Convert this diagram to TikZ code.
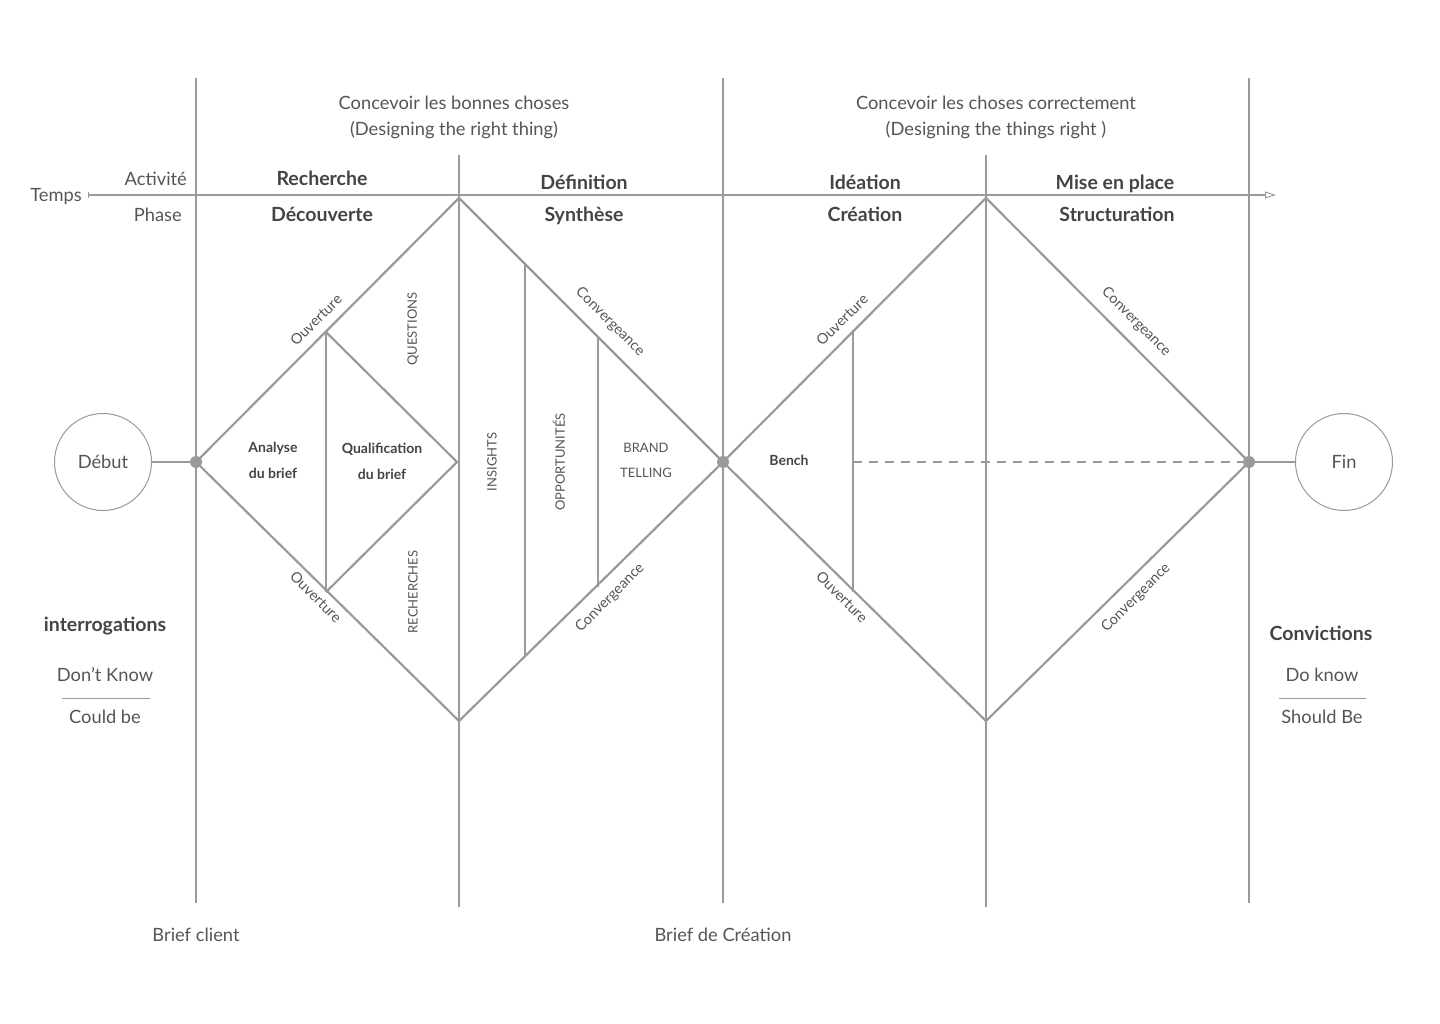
\documentclass[tikz,border=0pt]{standalone}
\usepackage{fontspec}
\setmainfont{Lato}
\usetikzlibrary{arrows.meta}
\definecolor{ln}{HTML}{9A9A9A}
\definecolor{tx}{HTML}{555555}
\definecolor{bd}{HTML}{444444}
\begin{document}
\begin{tikzpicture}[x=1pt,y=-1pt,
  thinln/.style={draw=ln,line width=1.2pt},
  dia/.style={draw=ln,line width=2.2pt,line join=miter},
  lbl/.style={text=tx,font=\fontsize{18.3}{21}\selectfont,inner sep=0pt,text height=0.72em,text depth=0.2em,yshift=-4.5pt},
  hd/.style={text=bd,font=\bfseries\fontsize{19.5}{22}\selectfont,inner sep=0pt,text height=0.72em,text depth=0.2em,yshift=-4.5pt},
  sbold/.style={text=bd,font=\bfseries\fontsize{14}{16}\selectfont,inner sep=0pt,text height=0.72em,text depth=0.2em,yshift=-3pt},
  edge/.style={text=tx,font=\fontsize{14.5}{16}\selectfont,inner sep=0pt},
  caps/.style={text=tx,font=\fontsize{13}{15}\selectfont,inner sep=0pt},
  dot/.style={circle,fill=ln,inner sep=0pt,minimum size=12pt},
  endc/.style={circle,draw=ln,line width=1pt,minimum size=97pt,inner sep=0pt,text=tx,font=\fontsize{18.3}{21}\selectfont}]
\useasboundingbox (0,0) rectangle (1440,1024);

% column lines
\coordinate (v1t) at (196,78);  \coordinate (v1b) at (196,903);
\coordinate (v2t) at (459,155); \coordinate (v2b) at (459,907);
\coordinate (v3t) at (723,78);  \coordinate (v3b) at (723,903);
\coordinate (v4t) at (986,155); \coordinate (v4b) at (986,907);
\coordinate (v5t) at (1249,78); \coordinate (v5b) at (1249,903);
\draw[thinln] (v1t) -- (v1b);
\draw[thinln] (v2t) -- (v2b);
\draw[thinln] (v3t) -- (v3b);
\draw[thinln] (v4t) -- (v4b);
\draw[thinln] (v5t) -- (v5b);

% time axis
\coordinate (ta) at (88,195);
\coordinate (tb) at (1276,195);
\draw[thinln,{Bar[width=6pt]}-{Triangle[open,length=11pt,width=7pt,line width=1pt]}] (ta) -- (tb);

% diamond vertices
\coordinate (A) at (196,462);
\coordinate (T1) at (459,198);
\coordinate (B) at (723,462);
\coordinate (D1) at (459,721);
\coordinate (T2) at (986,198);
\coordinate (C) at (1249,462);
\coordinate (D2) at (986,721);

% inner structure diamond 1
\coordinate (q1) at (326,332);
\coordinate (q2) at (326,592);
\coordinate (q3) at (457,462);
\draw[dia] (q1) -- (q2);
\draw[dia] (q1) -- (q3) -- (q2);
\draw[dia] (T1) -- (D1);
\coordinate (o1) at (525,264); \coordinate (o2) at (525,657);
\coordinate (b1) at (598,337); \coordinate (b2) at (598,587);
\draw[dia] (o1) -- (o2);
\draw[dia] (b1) -- (b2);

% inner structure diamond 2
\coordinate (n1) at (853,332);
\coordinate (n2) at (853,592);
\coordinate (n3) at (853,462);
\draw[dia] (n1) -- (n2);
\draw[thinln,dash pattern=on 9pt off 7pt] (n3) -- (C);

% diamonds
\draw[dia] (A) -- (T1) -- (B) -- (D1) -- cycle;
\draw[dia] (B) -- (T2) -- (C) -- (D2) -- cycle;

% start/end
\node[endc] (debut) at (103,462) {Début};
\node[endc] (fin) at (1344,462) {Fin};
\draw[thinln] (debut) -- (A);
\draw[thinln] (C) -- (fin);
\node[dot] (dA) at (A) {};
\node[dot] (dB) at (B) {};
\node[dot] (dC) at (C) {};

% headings
\node[lbl] (h1) at (454,102) {Concevoir les bonnes choses};
\node[lbl] (h1b) at (454,128) {(Designing the right thing)};
\node[lbl] (h2) at (996,102) {Concevoir les choses correctement};
\node[lbl] (h2b) at (996,128) {(Designing the things right )};

\node[lbl,anchor=east] (temps) at (82,194) {Temps};
\node[lbl,anchor=east] (act) at (187,178) {Activité};
\node[lbl,anchor=east] (phase) at (182,214) {Phase};

\node[hd] (r1) at (322,178) {Recherche};
\node[hd] (r2) at (322,214) {Découverte};
\node[hd] (d1) at (584,182) {Définition};
\node[hd] (d2) at (584,214) {Synthèse};
\node[hd] (i1) at (865,182) {Idéation};
\node[hd] (i2) at (865,214) {Création};
\node[hd] (m1) at (1115,182) {Mise en place};
\node[hd] (m2) at (1117,214) {Structuration};

% diamond 1 texts
\node[sbold] (an1) at (273,447) {Analyse};
\node[sbold] (an2) at (273,473) {du brief};
\node[sbold] (ql1) at (382,448) {Qualification};
\node[sbold] (ql2) at (382,474) {du brief};
\node[caps,rotate=90] (qu) at (413,329) {QUESTIONS};
\node[caps,rotate=90] (re) at (413,592) {RECHERCHES};
\node[edge,rotate=45] (ou1) at (316,320) {Ouverture};
\node[edge,rotate=-45] (ou2) at (316,597) {Ouverture};
\node[caps,rotate=90] (ins) at (492,462) {INSIGHTS};
\node[caps,rotate=90] (opp) at (559,462) {OPPORTUNITÉS};
\node[caps] (br1) at (646,448) {BRAND};
\node[caps] (br2) at (646,473) {TELLING};
\node[edge,rotate=-45] (cv1) at (610,322) {Convergeance};
\node[edge,rotate=45] (cv2) at (610,598) {Convergeance};

% diamond 2 texts
\node[edge,rotate=45] (ou3) at (842,320) {Ouverture};
\node[edge,rotate=-45] (ou4) at (842,597) {Ouverture};
\node[sbold] (bench) at (789,460) {Bench};
\node[edge,rotate=-45] (cv3) at (1136,322) {Convergeance};
\node[edge,rotate=45] (cv4) at (1136,598) {Convergeance};

% left / right notes
\node[hd] (intg) at (105,624) {interrogations};
\node[lbl] (dk) at (105,674) {Don’t Know};
\coordinate (l1a) at (62,698); \coordinate (l1b) at (150,698);
\draw[thinln,line width=1pt] (l1a) -- (l1b);
\node[lbl] (cb) at (105,716) {Could be};

\node[hd] (conv) at (1321,633) {Convictions};
\node[lbl] (dok) at (1322,674) {Do know};
\coordinate (l2a) at (1279,698); \coordinate (l2b) at (1366,698);
\draw[thinln,line width=1pt] (l2a) -- (l2b);
\node[lbl] (sb) at (1322,716) {Should Be};

% bottom
\node[lbl] (bc) at (196,934) {Brief client};
\node[lbl] (bdc) at (723,934) {Brief de Création};
\end{tikzpicture}
\end{document}
